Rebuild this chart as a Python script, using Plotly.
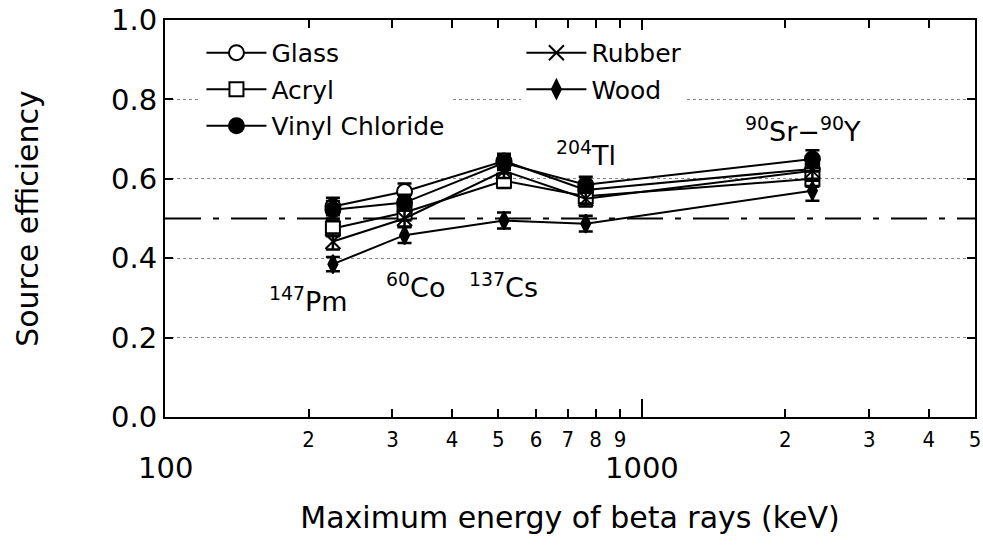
import math
import plotly.graph_objects as go

# ---- data ----
energies_kev = [225, 318, 514, 763, 2280]          # Pm-147, Co-60, Cs-137, Tl-204, Sr-90/Y-90
series_names = ["Glass", "Acryl", "Vinyl Chloride", "Rubber", "Wood"]
glass = [0.530, 0.568, 0.645, 0.572, 0.625]
acryl = [0.475, 0.515, 0.595, 0.556, 0.600]
vinyl = [0.522, 0.540, 0.640, 0.585, 0.650]
rubber = [0.442, 0.500, 0.620, 0.550, 0.620]
wood = [0.385, 0.458, 0.495, 0.487, 0.570]
err_glass = [0.022, 0.020, 0.018, 0.020, 0.022]
err_acryl = [0.020, 0.020, 0.018, 0.020, 0.020]
err_vinyl = [0.022, 0.020, 0.018, 0.020, 0.022]
err_rubber = [0.020, 0.020, 0.018, 0.020, 0.020]
err_wood = [0.018, 0.020, 0.020, 0.020, 0.025]

nuclide_labels = ["<sup>147</sup>Pm", "<sup>60</sup>Co", "<sup>137</sup>Cs",
                  "<sup>204</sup>Tl", "<sup>90</sup>Sr\u2212<sup>90</sup>Y"]
nuclide_label_pos = [(200, 0.295), (336, 0.332), (512, 0.332), (764, 0.665), (2180, 0.723)]

x_tick_vals = [200, 300, 400, 500, 600, 700, 800, 900, 2000, 3000, 4000, 5000]
x_tick_text = ["2", "3", "4", "5", "6", "7", "8", "9", "2", "3", "4", "5"]
x_major_vals = [100, 1000]
x_major_text = ["100", "1000"]

FONT = "DejaVu Sans, Liberation Sans, sans-serif"
NARROW = "Liberation Sans Narrow, DejaVu Sans Condensed, Liberation Sans, sans-serif"

styles = {
    "Glass": dict(symbol="circle", size=15, color="white", legend="legend"),
    "Acryl": dict(symbol="square", size=14, color="white", legend="legend"),
    "Vinyl Chloride": dict(symbol="circle", size=15, color="black", legend="legend"),
    "Rubber": dict(symbol="x-thin-open", size=15, color="black", legend="legend2"),
    "Wood": dict(symbol="diamond-tall", size=13, color="black", legend="legend2"),
}
values = {"Glass": glass, "Acryl": acryl, "Vinyl Chloride": vinyl, "Rubber": rubber, "Wood": wood}
errors = {"Glass": err_glass, "Acryl": err_acryl, "Vinyl Chloride": err_vinyl,
          "Rubber": err_rubber, "Wood": err_wood}

fig = go.Figure()
for name in series_names:
    st = styles[name]
    fig.add_trace(go.Scatter(
        x=energies_kev, y=values[name], name=name, mode="lines+markers",
        legend=st["legend"], legendgroup=name,
        line=dict(color="black", width=2),
        marker=dict(symbol=st["symbol"], size=st["size"], color=st["color"],
                    line=dict(color="black", width=2)),
        error_y=dict(type="data", array=errors[name], color="black", thickness=2.5, width=7),
    ))

fig.add_hline(y=0.5, line=dict(color="black", width=2, dash="36px,12px,6px,12px"), layer="below")

for txt, (xv, yv) in zip(nuclide_labels, nuclide_label_pos):
    fig.add_annotation(x=math.log10(xv), y=yv, text=txt, showarrow=False,
                       xanchor="center", yanchor="middle",
                       font=dict(family=FONT, size=27, color="black"))

for xv, txt in zip(x_major_vals, x_major_text):
    fig.add_annotation(x=math.log10(xv), y=0, yref="paper", yshift=-51, text=txt,
                       showarrow=False, xanchor="center", yanchor="middle",
                       font=dict(family=FONT, size=29, color="black"))

fig.update_layout(
    width=983, height=545, autosize=False,
    margin=dict(l=165, r=8, t=20, b=128),
    paper_bgcolor="white", plot_bgcolor="white",
    font=dict(family=FONT, color="black"),
    showlegend=True,
    legend=dict(x=0.045, y=0.975, xanchor="left", yanchor="top", bgcolor="white",
                font=dict(family=FONT, size=25), tracegroupgap=1, itemwidth=60,
                traceorder="grouped"),
    legend2=dict(x=0.44, y=0.975, xanchor="left", yanchor="top", bgcolor="white",
                 font=dict(family=FONT, size=25), tracegroupgap=1, itemwidth=60,
                 traceorder="grouped"),
    xaxis=dict(
        type="log", range=[2, math.log10(5000)], automargin=False,
        showline=True, linecolor="black", linewidth=2, mirror="ticks",
        ticks="inside", ticklen=8, tickwidth=1.5, tickcolor="black",
        tickmode="array", tickvals=x_tick_vals, ticktext=x_tick_text,
        tickfont=dict(family=NARROW, size=22), ticklabelstandoff=2,
        ticklabeloverflow="allow",
        minor=dict(tickmode="array", tickvals=x_major_vals, ticks="inside",
                   ticklen=18, tickwidth=1.5, tickcolor="black", showgrid=False),
        showgrid=False, zeroline=False,
        title=dict(text="Maximum energy of beta rays (keV)", standoff=56,
                   font=dict(family=FONT, size=30)),
    ),
    yaxis=dict(
        range=[0, 1], dtick=0.2, tickformat=".1f", automargin=False,
        showline=True, linecolor="black", linewidth=2, mirror="ticks",
        ticks="inside", ticklen=8, tickwidth=1.5, tickcolor="black",
        tickfont=dict(family=FONT, size=29), ticklabelstandoff=0,
        ticklabeloverflow="allow",
        showgrid=True, gridcolor="#888888", griddash="dot", gridwidth=1,
        zeroline=False,
        title=dict(text="Source efficiency", standoff=64, font=dict(family=FONT, size=30)),
    ),
)

# remove the default 8px page margin so the figure fills the window exactly
fig.write_html("out.html", config={"displayModeBar": False},
               post_script="document.body.style.margin='0px';document.body.style.overflow='hidden';")
